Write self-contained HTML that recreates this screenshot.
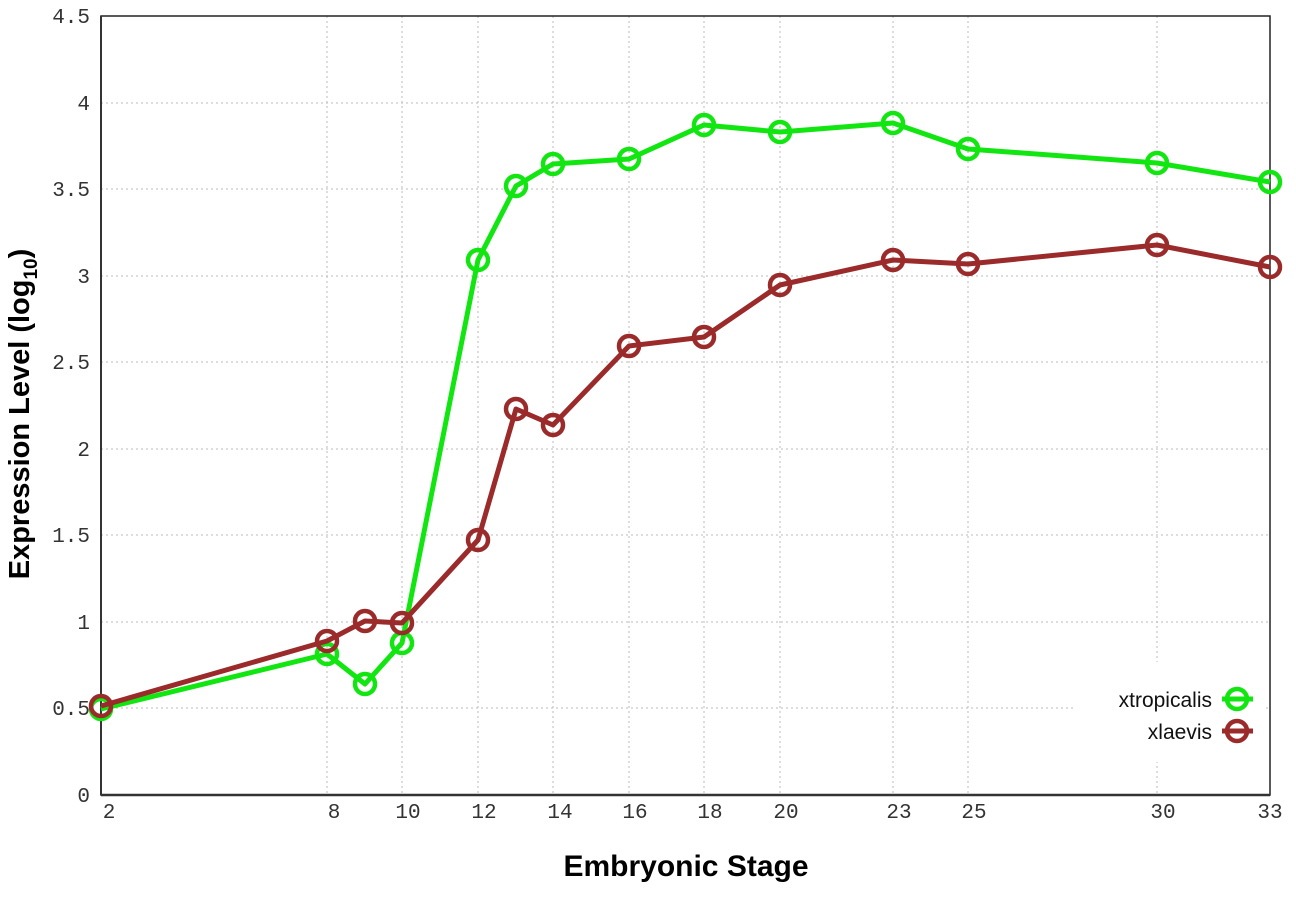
<!DOCTYPE html>
<html><head><meta charset="utf-8"><style>body{margin:0;background:#fff}</style></head><body>
<svg width="1296" height="907" xmlns="http://www.w3.org/2000/svg">
<rect width="1296" height="907" fill="#fff"/>
<g stroke="#bbb" stroke-width="1" stroke-dasharray="2,3">
<line x1="101" x2="1270" y1="708" y2="708"/><line x1="101" x2="1270" y1="622" y2="622"/>
<line x1="101" x2="1270" y1="535" y2="535"/><line x1="101" x2="1270" y1="449" y2="449"/>
<line x1="101" x2="1270" y1="362" y2="362"/><line x1="101" x2="1270" y1="276" y2="276"/>
<line x1="101" x2="1270" y1="189" y2="189"/><line x1="101" x2="1270" y1="103" y2="103"/>
<line x1="327" x2="327" y1="16" y2="795"/><line x1="402" x2="402" y1="16" y2="795"/>
<line x1="478" x2="478" y1="16" y2="795"/><line x1="553" x2="553" y1="16" y2="795"/>
<line x1="629" x2="629" y1="16" y2="795"/><line x1="704" x2="704" y1="16" y2="795"/>
<line x1="780" x2="780" y1="16" y2="795"/><line x1="893" x2="893" y1="16" y2="795"/>
<line x1="968" x2="968" y1="16" y2="795"/><line x1="1157" x2="1157" y1="16" y2="795"/>
</g>
<rect x="1075" y="662" width="190" height="100" fill="#fff"/>
<rect x="101" y="16" width="1169" height="779" fill="none" stroke="#222" stroke-width="1.5"/>
<line x1="101" x2="1270" y1="795" y2="795" stroke="#333" stroke-width="2.5"/>
<line x1="101" x2="101" y1="16" y2="795" stroke="#333" stroke-width="2"/>
<g font-family="Liberation Mono, monospace" font-size="21" fill="#333" text-anchor="end">
<text x="90" y="802">0</text><text x="90" y="715">0.5</text><text x="90" y="629">1</text>
<text x="90" y="542">1.5</text><text x="90" y="456">2</text><text x="90" y="369">2.5</text>
<text x="90" y="283">3</text><text x="90" y="196">3.5</text><text x="90" y="110">4</text>
<text x="90" y="23">4.5</text>
</g>
<g font-family="Liberation Mono, monospace" font-size="21" fill="#333" text-anchor="middle">
<text x="109" y="818">2</text><text x="334" y="818">8</text><text x="408" y="818">10</text>
<text x="484" y="818">12</text><text x="560" y="818">14</text><text x="635" y="818">16</text>
<text x="710" y="818">18</text><text x="786" y="818">20</text><text x="899" y="818">23</text>
<text x="974" y="818">25</text><text x="1163" y="818">30</text><text x="1270" y="818">33</text>
</g>
<text x="686" y="876" font-family="Liberation Sans, sans-serif" font-weight="bold" font-size="30" text-anchor="middle">Embryonic Stage</text>
<text transform="translate(29,414) rotate(-90)" font-family="Liberation Sans, sans-serif" font-weight="bold" font-size="29" text-anchor="middle">Expression Level (log<tspan font-size="19" dy="8">10</tspan><tspan dy="-8">)</tspan></text>
<g fill="none" stroke-width="5" stroke-linejoin="round">
<polyline stroke="#11e611" points="101,709 327,654 365,684 402,643 478,260 516,186 553,164 629,159 704,125 780,132 893,123 968,149 1157,163 1270,182"/>
<g stroke="#11e611" stroke-width="4.5">
<circle cx="101" cy="709" r="10"/><circle cx="327" cy="654" r="10"/><circle cx="365" cy="684" r="10"/><circle cx="402" cy="643" r="10"/><circle cx="478" cy="260" r="10"/><circle cx="516" cy="186" r="10"/><circle cx="553" cy="164" r="10"/><circle cx="629" cy="159" r="10"/><circle cx="704" cy="125" r="10"/><circle cx="780" cy="132" r="10"/><circle cx="893" cy="123" r="10"/><circle cx="968" cy="149" r="10"/><circle cx="1157" cy="163" r="10"/><circle cx="1270" cy="182" r="10"/>
</g>
<polyline stroke="#9b2a2a" points="101,706 327,641 365,621 402,623 478,540 516,409 553,425 629,346 704,337 780,285 893,260 968,264 1157,245 1270,267"/>
<g stroke="#9b2a2a" stroke-width="4.5">
<circle cx="101" cy="706" r="10"/><circle cx="327" cy="641" r="10"/><circle cx="365" cy="621" r="10"/><circle cx="402" cy="623" r="10"/><circle cx="478" cy="540" r="10"/><circle cx="516" cy="409" r="10"/><circle cx="553" cy="425" r="10"/><circle cx="629" cy="346" r="10"/><circle cx="704" cy="337" r="10"/><circle cx="780" cy="285" r="10"/><circle cx="893" cy="260" r="10"/><circle cx="968" cy="264" r="10"/><circle cx="1157" cy="245" r="10"/><circle cx="1270" cy="267" r="10"/>
</g>
<line x1="1222" x2="1253" y1="699" y2="699" stroke="#11e611"/><circle cx="1237" cy="699" r="10" stroke="#11e611" stroke-width="4.5"/>
<line x1="1222" x2="1253" y1="731" y2="731" stroke="#9b2a2a"/><circle cx="1237" cy="731" r="10" stroke="#9b2a2a" stroke-width="4.5"/>
</g>
<g font-family="Liberation Sans, sans-serif" font-size="21" text-anchor="end" fill="#111">
<text x="1212" y="707">xtropicalis</text><text x="1212" y="739">xlaevis</text>
</g>
</svg>
</body></html>
